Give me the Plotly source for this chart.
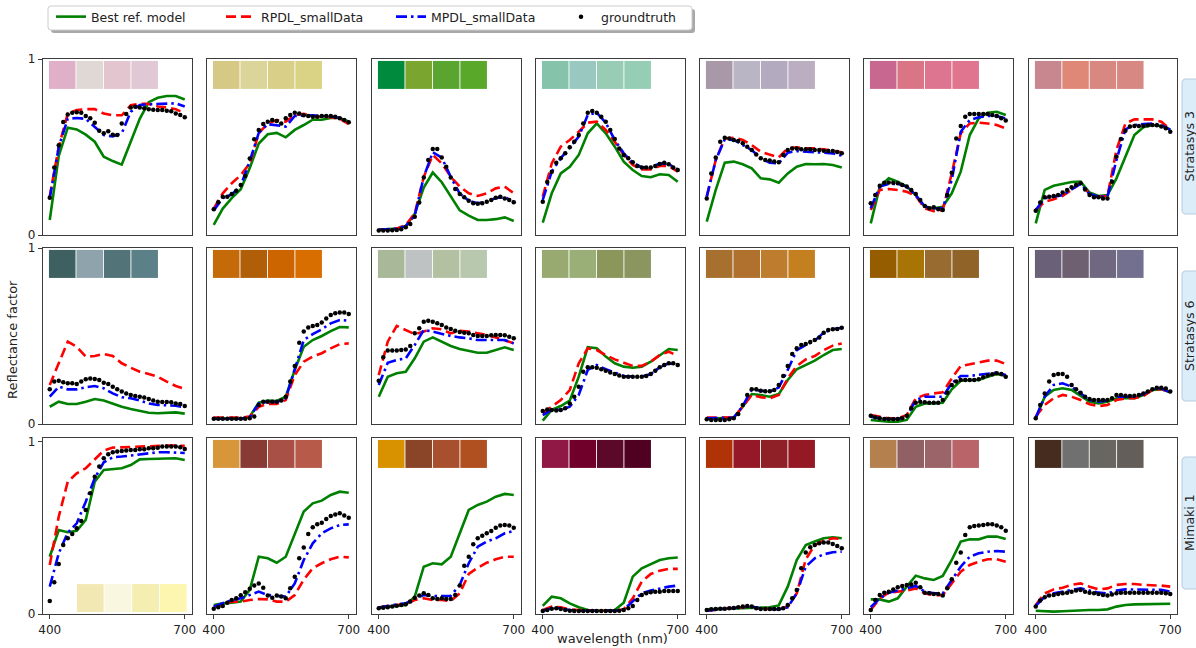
import plotly.graph_objects as go

# ---------------- data ----------------
wl_line = list(range(400, 701, 20))   # model curves
wl_dot = list(range(400, 701, 10))    # ground-truth samples

printers = ["Stratasys 3", "Stratasys 6", "Mimaki 1"]
legend_names = ["Best ref. model", "RPDL_smallData", "MPDL_smallData", "groundtruth"]
x_ticks = [400, 700]

# --- Stratasys 3 ---
best_s3 = [
    [0.085, 0.45, 0.61, 0.60, 0.57, 0.53, 0.445, 0.42, 0.40, 0.53, 0.66, 0.755, 0.78, 0.79, 0.79, 0.77],
    [0.057, 0.15, 0.21, 0.26, 0.38, 0.52, 0.572, 0.58, 0.555, 0.597, 0.625, 0.655, 0.655, 0.665, 0.665, 0.645],
    [0.03, 0.033, 0.037, 0.05, 0.12, 0.27, 0.355, 0.30, 0.22, 0.14, 0.11, 0.085, 0.085, 0.09, 0.10, 0.08],
    [0.07, 0.237, 0.35, 0.388, 0.455, 0.578, 0.634, 0.578, 0.502, 0.417, 0.369, 0.335, 0.328, 0.345, 0.341, 0.303],
    [0.076, 0.256, 0.411, 0.417, 0.402, 0.379, 0.322, 0.316, 0.297, 0.35, 0.388, 0.403, 0.402, 0.403, 0.398, 0.383],
    [0.066, 0.275, 0.322, 0.303, 0.275, 0.227, 0.161, 0.152, 0.161, 0.237, 0.36, 0.568, 0.663, 0.695, 0.70, 0.682],
    [0.066, 0.256, 0.28, 0.29, 0.301, 0.303, 0.241, 0.222, 0.227, 0.322, 0.445, 0.568, 0.612, 0.625, 0.619, 0.60],
]
rpdl_s3 = [
    [0.22, 0.50, 0.69, 0.71, 0.715, 0.715, 0.69, 0.68, 0.68, 0.737, 0.745, 0.745, 0.73, 0.725, 0.715, 0.69],
    [0.15, 0.237, 0.294, 0.34, 0.407, 0.578, 0.634, 0.653, 0.644, 0.682, 0.688, 0.676, 0.672, 0.669, 0.661, 0.63],
    [0.028, 0.032, 0.036, 0.057, 0.123, 0.33, 0.455, 0.407, 0.331, 0.275, 0.237, 0.222, 0.237, 0.265, 0.275, 0.237],
    [0.218, 0.407, 0.502, 0.54, 0.587, 0.638, 0.644, 0.597, 0.53, 0.455, 0.398, 0.373, 0.373, 0.392, 0.392, 0.36],
    [0.218, 0.426, 0.549, 0.553, 0.54, 0.511, 0.473, 0.455, 0.441, 0.492, 0.498, 0.492, 0.492, 0.487, 0.479, 0.47],
    [0.142, 0.256, 0.261, 0.256, 0.246, 0.222, 0.152, 0.136, 0.142, 0.35, 0.578, 0.634, 0.638, 0.634, 0.625, 0.606],
    [0.142, 0.189, 0.203, 0.222, 0.256, 0.297, 0.233, 0.218, 0.222, 0.483, 0.634, 0.657, 0.657, 0.657, 0.644, 0.60],
]
mpdl_s3 = [
    [0.21, 0.50, 0.66, 0.665, 0.66, 0.615, 0.568, 0.56, 0.578, 0.70, 0.739, 0.743, 0.745, 0.748, 0.748, 0.73],
    [0.14, 0.21, 0.23, 0.28, 0.42, 0.58, 0.63, 0.625, 0.616, 0.676, 0.68, 0.68, 0.675, 0.675, 0.665, 0.64],
    [0.03, 0.033, 0.036, 0.05, 0.11, 0.33, 0.47, 0.44, 0.33, 0.235, 0.195, 0.18, 0.19, 0.21, 0.215, 0.19],
    [0.2, 0.36, 0.436, 0.498, 0.559, 0.682, 0.695, 0.638, 0.54, 0.464, 0.411, 0.384, 0.384, 0.407, 0.403, 0.373],
    [0.218, 0.426, 0.544, 0.54, 0.511, 0.483, 0.436, 0.411, 0.407, 0.468, 0.477, 0.473, 0.468, 0.464, 0.464, 0.451],
    [0.152, 0.275, 0.29, 0.29, 0.275, 0.227, 0.161, 0.152, 0.152, 0.313, 0.587, 0.653, 0.669, 0.676, 0.676, 0.663],
    [0.142, 0.208, 0.218, 0.227, 0.259, 0.29, 0.233, 0.218, 0.218, 0.426, 0.60, 0.625, 0.631, 0.634, 0.625, 0.597],
]
gt_s3 = [
    [0.212, 0.383, 0.51, 0.642, 0.684, 0.695, 0.697, 0.695, 0.676, 0.663, 0.638, 0.593, 0.578, 0.589, 0.57, 0.568,
     0.634, 0.688, 0.725, 0.729, 0.725, 0.72, 0.714, 0.712, 0.71, 0.71, 0.706, 0.703, 0.691, 0.682, 0.669],
    [0.146, 0.186, 0.218, 0.218, 0.233, 0.252, 0.284, 0.335, 0.434, 0.544, 0.597, 0.631, 0.644, 0.653, 0.648, 0.634,
     0.663, 0.682, 0.695, 0.691, 0.68, 0.676, 0.672, 0.672, 0.676, 0.676, 0.676, 0.672, 0.663, 0.653, 0.64],
    [0.025, 0.025, 0.025, 0.027, 0.028, 0.032, 0.044, 0.063, 0.104, 0.184, 0.326, 0.426, 0.489, 0.489, 0.441, 0.388,
     0.326, 0.261, 0.233, 0.214, 0.195, 0.18, 0.178, 0.18, 0.189, 0.199, 0.212, 0.218, 0.208, 0.199, 0.186],
    [0.189, 0.301, 0.36, 0.411, 0.436, 0.464, 0.498, 0.53, 0.568, 0.634, 0.695, 0.705, 0.695, 0.672, 0.644, 0.597,
     0.545, 0.492, 0.455, 0.436, 0.413, 0.392, 0.384, 0.383, 0.384, 0.392, 0.403, 0.411, 0.402, 0.384, 0.369],
    [0.208, 0.35, 0.441, 0.53, 0.553, 0.549, 0.54, 0.534, 0.521, 0.502, 0.483, 0.458, 0.436, 0.426, 0.424, 0.417,
     0.413, 0.455, 0.483, 0.492, 0.492, 0.487, 0.487, 0.487, 0.483, 0.483, 0.479, 0.477, 0.477, 0.472, 0.464],
    [0.18, 0.227, 0.28, 0.297, 0.299, 0.297, 0.294, 0.284, 0.275, 0.256, 0.233, 0.199, 0.165, 0.152, 0.157, 0.146,
     0.142, 0.227, 0.354, 0.549, 0.619, 0.672, 0.688, 0.688, 0.688, 0.688, 0.688, 0.682, 0.676, 0.663, 0.65],
    [0.138, 0.184, 0.214, 0.218, 0.222, 0.227, 0.241, 0.256, 0.271, 0.284, 0.294, 0.259, 0.227, 0.214, 0.214, 0.208,
     0.208, 0.303, 0.445, 0.545, 0.593, 0.616, 0.619, 0.619, 0.619, 0.623, 0.625, 0.623, 0.616, 0.606, 0.587],
]
sw_s3 = [
    ["#e0b0c8", "#e0d8d5", "#e2c5cf", "#e0c8d5"],
    ["#d6c885", "#dcd59a", "#dacf88", "#dad386"],
    ["#008a3e", "#7aa52f", "#5aa530", "#5aa82a"],
    ["#85c4aa", "#98c8c0", "#98ccb5", "#95ceb5"],
    ["#a898a8", "#bab5c5", "#b4aac0", "#bbaec0"],
    ["#c86890", "#da7585", "#de7590", "#e07590"],
    ["#c8868e", "#e08878", "#d88880", "#d88882"],
]

# --- Stratasys 6 ---
best_s6 = [
    [0.098, 0.127, 0.114, 0.114, 0.127, 0.142, 0.133, 0.114, 0.098, 0.085, 0.074, 0.064, 0.061, 0.064, 0.066, 0.059],
    [0.03, 0.03, 0.03, 0.03, 0.042, 0.121, 0.133, 0.131, 0.155, 0.307, 0.439, 0.477, 0.50, 0.528, 0.551, 0.549],
    [0.155, 0.269, 0.288, 0.297, 0.373, 0.468, 0.492, 0.468, 0.443, 0.426, 0.417, 0.405, 0.405, 0.42, 0.436, 0.42],
    [0.019, 0.08, 0.102, 0.133, 0.269, 0.436, 0.43, 0.383, 0.345, 0.326, 0.32, 0.326, 0.354, 0.392, 0.426, 0.42],
    [0.03, 0.032, 0.032, 0.036, 0.098, 0.17, 0.165, 0.155, 0.17, 0.25, 0.311, 0.335, 0.36, 0.392, 0.42, 0.426],
    [0.023, 0.017, 0.013, 0.013, 0.023, 0.098, 0.117, 0.117, 0.121, 0.197, 0.246, 0.25, 0.25, 0.269, 0.284, 0.273],
    [0.032, 0.155, 0.193, 0.203, 0.193, 0.161, 0.127, 0.117, 0.127, 0.146, 0.146, 0.146, 0.165, 0.193, 0.197, 0.18],
]
rpdl_s6 = [
    [0.222, 0.345, 0.468, 0.439, 0.383, 0.386, 0.398, 0.386, 0.345, 0.32, 0.297, 0.284, 0.269, 0.241, 0.216, 0.20],
    [0.036, 0.036, 0.036, 0.036, 0.042, 0.098, 0.114, 0.114, 0.136, 0.278, 0.354, 0.383, 0.402, 0.43, 0.453, 0.458],
    [0.278, 0.468, 0.557, 0.534, 0.511, 0.525, 0.544, 0.538, 0.515, 0.53, 0.525, 0.515, 0.506, 0.492, 0.477, 0.458],
    [0.061, 0.098, 0.136, 0.193, 0.345, 0.43, 0.42, 0.392, 0.367, 0.348, 0.33, 0.33, 0.354, 0.392, 0.411, 0.386],
    [0.036, 0.036, 0.036, 0.038, 0.098, 0.165, 0.152, 0.146, 0.165, 0.259, 0.33, 0.367, 0.386, 0.42, 0.445, 0.458],
    [0.051, 0.042, 0.032, 0.032, 0.051, 0.146, 0.165, 0.174, 0.18, 0.259, 0.33, 0.339, 0.348, 0.36, 0.36, 0.341],
    [0.042, 0.108, 0.146, 0.165, 0.155, 0.136, 0.112, 0.102, 0.108, 0.136, 0.146, 0.146, 0.159, 0.193, 0.199, 0.18],
]
mpdl_s6 = [
    [0.155, 0.212, 0.197, 0.197, 0.208, 0.216, 0.203, 0.174, 0.152, 0.146, 0.133, 0.117, 0.108, 0.108, 0.104, 0.095],
    [0.03, 0.03, 0.03, 0.03, 0.038, 0.117, 0.127, 0.125, 0.146, 0.307, 0.477, 0.511, 0.538, 0.572, 0.591, 0.587],
    [0.222, 0.348, 0.364, 0.373, 0.449, 0.534, 0.525, 0.511, 0.50, 0.492, 0.487, 0.477, 0.477, 0.481, 0.477, 0.458],
    [0.051, 0.08, 0.08, 0.098, 0.165, 0.307, 0.335, 0.311, 0.292, 0.273, 0.269, 0.269, 0.284, 0.322, 0.345, 0.335],
    [0.032, 0.032, 0.032, 0.036, 0.102, 0.197, 0.189, 0.184, 0.208, 0.307, 0.42, 0.449, 0.473, 0.519, 0.538, 0.547],
    [0.042, 0.032, 0.028, 0.028, 0.042, 0.136, 0.155, 0.155, 0.155, 0.231, 0.273, 0.273, 0.278, 0.284, 0.292, 0.278],
    [0.036, 0.155, 0.222, 0.231, 0.212, 0.174, 0.136, 0.127, 0.133, 0.155, 0.155, 0.155, 0.17, 0.197, 0.203, 0.18],
]
gt_s6 = [
    [0.197, 0.241, 0.246, 0.237, 0.231, 0.231, 0.227, 0.241, 0.254, 0.259, 0.256, 0.25, 0.235, 0.227, 0.212, 0.197,
     0.184, 0.174, 0.165, 0.159, 0.155, 0.15, 0.142, 0.133, 0.127, 0.125, 0.125, 0.123, 0.117, 0.114, 0.102],
    [0.03, 0.03, 0.03, 0.03, 0.03, 0.03, 0.03, 0.03, 0.032, 0.042, 0.108, 0.127, 0.127, 0.127, 0.127, 0.133,
     0.155, 0.241, 0.33, 0.462, 0.525, 0.549, 0.557, 0.563, 0.576, 0.60, 0.619, 0.629, 0.633, 0.633, 0.625],
    [0.246, 0.379, 0.417, 0.417, 0.417, 0.42, 0.424, 0.443, 0.515, 0.544, 0.581, 0.587, 0.581, 0.572, 0.563, 0.549,
     0.54, 0.53, 0.523, 0.519, 0.515, 0.506, 0.50, 0.50, 0.50, 0.504, 0.506, 0.506, 0.504, 0.496, 0.487],
    [0.074, 0.083, 0.08, 0.076, 0.08, 0.089, 0.117, 0.155, 0.212, 0.297, 0.322, 0.322, 0.32, 0.311, 0.303, 0.292,
     0.284, 0.275, 0.269, 0.269, 0.269, 0.269, 0.269, 0.273, 0.284, 0.303, 0.322, 0.335, 0.345, 0.345, 0.335],
    [0.027, 0.023, 0.023, 0.023, 0.023, 0.027, 0.032, 0.057, 0.108, 0.165, 0.197, 0.197, 0.189, 0.186, 0.186, 0.193,
     0.222, 0.273, 0.33, 0.398, 0.43, 0.449, 0.455, 0.466, 0.477, 0.492, 0.519, 0.534, 0.538, 0.54, 0.547],
    [0.047, 0.038, 0.032, 0.028, 0.028, 0.027, 0.028, 0.032, 0.047, 0.089, 0.121, 0.127, 0.123, 0.121, 0.121, 0.121,
     0.136, 0.178, 0.222, 0.241, 0.25, 0.25, 0.25, 0.25, 0.254, 0.265, 0.275, 0.282, 0.288, 0.284, 0.269],
    [0.032, 0.108, 0.174, 0.241, 0.278, 0.284, 0.284, 0.269, 0.222, 0.197, 0.178, 0.155, 0.142, 0.136, 0.136, 0.136,
     0.136, 0.146, 0.165, 0.165, 0.161, 0.159, 0.161, 0.165, 0.174, 0.184, 0.197, 0.206, 0.206, 0.201, 0.184],
]
sw_s6 = [
    ["#3e6060", "#8fa3ad", "#527478", "#5b8088"],
    ["#c56a08", "#b05e08", "#cc6500", "#d86e00"],
    ["#a8b898", "#bec2c2", "#b4c0a2", "#b8c8ae"],
    ["#98aa70", "#9aae78", "#8a965a", "#8a9560"],
    ["#a8702e", "#b0702e", "#be7c2e", "#c48020"],
    ["#965c00", "#a87405", "#986c30", "#906428"],
    ["#6a6078", "#6e6070", "#706880", "#72708e"],
]

# --- Mimaki 1 ---
best_m1 = [
    [0.333, 0.488, 0.475, 0.483, 0.547, 0.769, 0.837, 0.843, 0.847, 0.866, 0.899, 0.901, 0.903, 0.903, 0.905, 0.895],
    [0.052, 0.062, 0.066, 0.072, 0.14, 0.333, 0.324, 0.298, 0.333, 0.459, 0.595, 0.643, 0.659, 0.692, 0.711, 0.705],
    [0.037, 0.043, 0.047, 0.052, 0.101, 0.275, 0.295, 0.289, 0.333, 0.469, 0.605, 0.634, 0.653, 0.682, 0.698, 0.692],
    [0.047, 0.101, 0.091, 0.062, 0.039, 0.023, 0.019, 0.019, 0.023, 0.066, 0.217, 0.266, 0.291, 0.314, 0.324, 0.328],
    [0.027, 0.029, 0.029, 0.033, 0.037, 0.037, 0.039, 0.039, 0.05, 0.159, 0.314, 0.401, 0.421, 0.44, 0.446, 0.44],
    [0.085, 0.085, 0.072, 0.091, 0.159, 0.223, 0.207, 0.198, 0.221, 0.314, 0.421, 0.434, 0.434, 0.45, 0.45, 0.436],
    [0.019, 0.016, 0.014, 0.016, 0.019, 0.023, 0.023, 0.023, 0.027, 0.043, 0.052, 0.056, 0.058, 0.06, 0.062, 0.06],
]
rpdl_m1 = [
    [0.285, 0.566, 0.769, 0.818, 0.847, 0.899, 0.95, 0.967, 0.969, 0.973, 0.977, 0.977, 0.979, 0.979, 0.979, 0.977],
    [0.043, 0.052, 0.072, 0.072, 0.081, 0.087, 0.085, 0.072, 0.072, 0.11, 0.20, 0.266, 0.295, 0.318, 0.333, 0.329],
    [0.037, 0.047, 0.052, 0.058, 0.081, 0.091, 0.081, 0.081, 0.076, 0.12, 0.233, 0.269, 0.298, 0.318, 0.333, 0.333],
    [0.023, 0.043, 0.039, 0.027, 0.023, 0.019, 0.019, 0.019, 0.019, 0.027, 0.091, 0.188, 0.233, 0.252, 0.262, 0.262],
    [0.019, 0.027, 0.031, 0.035, 0.039, 0.043, 0.031, 0.027, 0.027, 0.043, 0.12, 0.318, 0.401, 0.426, 0.44, 0.436],
    [0.023, 0.091, 0.124, 0.13, 0.136, 0.149, 0.12, 0.11, 0.11, 0.178, 0.246, 0.285, 0.304, 0.318, 0.318, 0.304],
    [0.052, 0.12, 0.143, 0.153, 0.169, 0.178, 0.159, 0.143, 0.149, 0.169, 0.174, 0.174, 0.169, 0.169, 0.165, 0.159],
]
mpdl_m1 = [
    [0.159, 0.353, 0.473, 0.527, 0.653, 0.789, 0.882, 0.911, 0.915, 0.921, 0.928, 0.934, 0.94, 0.94, 0.94, 0.936],
    [0.043, 0.062, 0.081, 0.091, 0.11, 0.13, 0.11, 0.107, 0.101, 0.178, 0.314, 0.411, 0.469, 0.498, 0.517, 0.521],
    [0.037, 0.047, 0.056, 0.062, 0.091, 0.11, 0.105, 0.105, 0.105, 0.169, 0.295, 0.391, 0.421, 0.44, 0.469, 0.483],
    [0.019, 0.033, 0.033, 0.023, 0.019, 0.019, 0.019, 0.019, 0.019, 0.027, 0.072, 0.12, 0.136, 0.149, 0.159, 0.165],
    [0.019, 0.027, 0.031, 0.035, 0.039, 0.043, 0.031, 0.027, 0.027, 0.039, 0.12, 0.275, 0.324, 0.347, 0.359, 0.362],
    [0.039, 0.091, 0.124, 0.136, 0.149, 0.163, 0.13, 0.12, 0.12, 0.198, 0.275, 0.333, 0.353, 0.362, 0.366, 0.362],
    [0.047, 0.101, 0.12, 0.13, 0.14, 0.149, 0.136, 0.124, 0.12, 0.136, 0.143, 0.143, 0.14, 0.143, 0.14, 0.13],
]
gt_m1 = [
    [0.076, 0.184, 0.291, 0.401, 0.44, 0.465, 0.498, 0.541, 0.605, 0.702, 0.798, 0.857, 0.905, 0.928, 0.94, 0.944,
     0.948, 0.95, 0.953, 0.953, 0.957, 0.957, 0.963, 0.963, 0.967, 0.973, 0.973, 0.973, 0.973, 0.969, 0.959],
    [0.031, 0.039, 0.047, 0.066, 0.081, 0.091, 0.109, 0.126, 0.147, 0.165, 0.178, 0.153, 0.107, 0.095, 0.107, 0.101,
     0.091, 0.149, 0.217, 0.324, 0.386, 0.465, 0.504, 0.521, 0.531, 0.552, 0.57, 0.579, 0.585, 0.572, 0.56],
    [0.033, 0.037, 0.039, 0.043, 0.048, 0.052, 0.056, 0.072, 0.095, 0.107, 0.12, 0.11, 0.091, 0.087, 0.091, 0.087,
     0.087, 0.11, 0.165, 0.281, 0.333, 0.405, 0.44, 0.455, 0.469, 0.483, 0.502, 0.514, 0.517, 0.514, 0.502],
    [0.017, 0.023, 0.031, 0.033, 0.029, 0.023, 0.019, 0.017, 0.017, 0.017, 0.017, 0.017, 0.017, 0.017, 0.017, 0.017,
     0.017, 0.019, 0.023, 0.033, 0.047, 0.081, 0.11, 0.12, 0.126, 0.13, 0.13, 0.134, 0.134, 0.134, 0.134],
    [0.023, 0.027, 0.029, 0.031, 0.031, 0.033, 0.035, 0.039, 0.043, 0.047, 0.043, 0.033, 0.029, 0.029, 0.029, 0.029,
     0.029, 0.033, 0.052, 0.091, 0.14, 0.266, 0.357, 0.388, 0.401, 0.411, 0.415, 0.415, 0.407, 0.395, 0.382],
    [0.023, 0.081, 0.11, 0.124, 0.13, 0.143, 0.155, 0.163, 0.169, 0.172, 0.182, 0.155, 0.124, 0.12, 0.116, 0.116,
     0.107, 0.149, 0.202, 0.298, 0.357, 0.459, 0.504, 0.512, 0.514, 0.517, 0.521, 0.521, 0.514, 0.504, 0.484],
    [0.043, 0.078, 0.097, 0.107, 0.11, 0.116, 0.12, 0.124, 0.13, 0.136, 0.14, 0.13, 0.124, 0.12, 0.116, 0.11,
     0.107, 0.114, 0.12, 0.124, 0.124, 0.124, 0.124, 0.124, 0.124, 0.124, 0.124, 0.124, 0.124, 0.12, 0.116],
]
sw_m1 = [
    ["#f2e8b4", "#faf7e0", "#f4eeb0", "#fcf6b0"],
    ["#d8963a", "#883a35", "#a85045", "#b85a4a"],
    ["#d89200", "#8a4428", "#a8502e", "#b05020"],
    ["#901845", "#70002a", "#5c0828", "#500020"],
    ["#b03308", "#951828", "#902028", "#951825"],
    ["#b4804e", "#906065", "#9a6468", "#b86468"],
    ["#452c1e", "#707070", "#686660", "#645e5a"],
]

rows = [
    (best_s3, rpdl_s3, mpdl_s3, gt_s3, sw_s3),
    (best_s6, rpdl_s6, mpdl_s6, gt_s6, sw_s6),
    (best_m1, rpdl_m1, mpdl_m1, gt_m1, sw_m1),
]
y_top = [1.0, 1.0, 1.023]

# ---------------- layout geometry ----------------
W, H = 1196, 648
ML, MR, MT, MB = 43, 19, 59, 34
PW = W - ML - MR
PH = H - MT - MB
col_left = [43, 207, 372, 536, 700, 864, 1029]
panel_w = 148.5
row_top = [59, 248, 438]
panel_h = 176


def px_x(px):
    return (px - ML) / PW


def px_y(py):
    return (H - MB - py) / PH


def clamp(v):
    return min(1.0, max(0.0, v))


def rr_path(x0, y0, x1, y1, r):
    pts = [("M", [(x0 + r, y0)]), ("L", [(x1 - r, y0)]), ("Q", [(x1, y0), (x1, y0 + r)]),
           ("L", [(x1, y1 - r)]), ("Q", [(x1, y1), (x1 - r, y1)]), ("L", [(x0 + r, y1)]),
           ("Q", [(x0, y1), (x0, y1 - r)]), ("L", [(x0, y0 + r)]), ("Q", [(x0, y0), (x0 + r, y0)])]
    s = ""
    for cmd, ps in pts:
        s += cmd + " " + " ".join(f"{px_x(a):.5f},{px_y(b):.5f}" for a, b in ps) + " "
    return s + "Z"


FONT = "DejaVu Sans, Verdana, sans-serif"
fig = go.Figure()
layout = {}
shapes = []
annotations = []

for r in range(3):
    best, rpdl, mpdl, gt, sw = rows[r]
    for c in range(7):
        n = r * 7 + c + 1
        xs = "x" if n == 1 else f"x{n}"
        ys = "y" if n == 1 else f"y{n}"
        first = (n == 1)
        fig.add_trace(go.Scatter(x=wl_line, y=best[c], xaxis=xs, yaxis=ys, mode="lines",
                                 line=dict(color="green", width=2.6), name=legend_names[0],
                                 legendgroup="g0", showlegend=first))
        fig.add_trace(go.Scatter(x=wl_line, y=rpdl[c], xaxis=xs, yaxis=ys, mode="lines",
                                 line=dict(color="red", width=2.6, dash="10px,5px"), name=legend_names[1],
                                 legendgroup="g1", showlegend=first))
        fig.add_trace(go.Scatter(x=wl_line, y=mpdl[c], xaxis=xs, yaxis=ys, mode="lines",
                                 line=dict(color="blue", width=2.6, dash="11px,4px,2.5px,4px"),
                                 name=legend_names[2], legendgroup="g2", showlegend=first))
        fig.add_trace(go.Scatter(x=wl_dot, y=gt[c], xaxis=xs, yaxis=ys, mode="markers",
                                 marker=dict(color="black", size=4.5), name=legend_names[3],
                                 legendgroup="g3", showlegend=first))

        L = col_left[c]
        T = row_top[r]
        xkey = "xaxis" if n == 1 else f"xaxis{n}"
        ykey = "yaxis" if n == 1 else f"yaxis{n}"
        bottom_row = (r == 2)
        first_col = (c == 0)
        layout[xkey] = dict(
            domain=[clamp(px_x(L)), clamp(px_x(L + panel_w))], range=[385, 715], anchor=ys,
            showline=True, mirror=True, linecolor="#3c3c3c", linewidth=1.3,
            showgrid=False, zeroline=False,
            tickvals=x_ticks if bottom_row else [], showticklabels=bottom_row,
            ticks="outside" if bottom_row else "", ticklen=4, tickcolor="#3c3c3c",
            tickfont=dict(family=FONT, size=12, color="#222"),
        )
        layout[ykey] = dict(
            domain=[clamp(px_y(T + panel_h)), clamp(px_y(T))], range=[0, y_top[r]], anchor=xs,
            showline=True, mirror=True, linecolor="#3c3c3c", linewidth=1.3,
            showgrid=False, zeroline=False,
            tickvals=[0, 1] if first_col else [], showticklabels=first_col,
            ticks="outside" if first_col else "", ticklen=4, tickcolor="#3c3c3c",
            tickfont=dict(family=FONT, size=12, color="#222"),
        )

        # colour swatches (drawn in axis-domain coordinates)
        if r == 2 and c == 0:
            sx0, sx1, sy0, sy1 = 0.228, 0.973, 0.011, 0.17
        else:
            sx0, sx1, sy0, sy1 = 0.04, 0.78, 0.83, 0.989
        sw_w = (sx1 - sx0) / 4
        for i, col in enumerate(sw[c]):
            shapes.append(dict(type="rect", xref=f"{xs} domain", yref=f"{ys} domain",
                               x0=sx0 + i * sw_w, x1=sx0 + (i + 1) * sw_w - 0.006,
                               y0=sy0, y1=sy1, fillcolor=col, line=dict(width=0), layer="above"))

# legend frame with shadow (matplotlib style)
shapes.append(dict(type="path", xref="paper", yref="paper", path=rr_path(51, 9, 695, 33, 3),
                   fillcolor="#a8a8a8", line=dict(width=0), layer="above"))
shapes.append(dict(type="path", xref="paper", yref="paper", path=rr_path(48, 6, 692, 30, 3),
                   fillcolor="white", line=dict(color="#cccccc", width=1), layer="above"))

# row label boxes
row_boxes = [(79, 214), (271, 401), (457, 589)]
for (y0, y1), label in zip(row_boxes, printers):
    shapes.append(dict(type="path", xref="paper", yref="paper", path=rr_path(1182, y0, 1215, y1, 4),
                       fillcolor="#dcedfa", line=dict(color="#b6cbdc", width=1), layer="above"))
    annotations.append(dict(text=label, xref="paper", yref="paper", x=px_x(1189), y=px_y((y0 + y1) / 2),
                            xanchor="center", yanchor="middle", textangle=-90, showarrow=False,
                            font=dict(family=FONT, size=12.5, color="#222")))

annotations.append(dict(text="Reflectance factor", xref="paper", yref="paper", x=px_x(13), y=px_y(340),
                        xanchor="center", yanchor="middle", textangle=-90, showarrow=False,
                        font=dict(family=FONT, size=13, color="#222")))
annotations.append(dict(text="wavelength (nm)", xref="paper", yref="paper", x=px_x(612), y=px_y(638),
                        xanchor="center", yanchor="middle", showarrow=False,
                        font=dict(family=FONT, size=13, color="#222")))

fig.update_layout(
    width=W, height=H,
    margin=dict(l=ML, r=MR, t=MT, b=MB, autoexpand=False),
    paper_bgcolor="white", plot_bgcolor="white",
    font=dict(family=FONT, size=12, color="#222"),
    showlegend=True,
    legend=dict(orientation="h", xref="container", yref="container",
                x=51 / W, xanchor="left", y=1 - 2 / H, yanchor="top",
                bgcolor="rgba(0,0,0,0)", borderwidth=0, font=dict(family=FONT, size=12.5, color="#222"),
                entrywidth=125, entrywidthmode="pixels", itemwidth=30, tracegroupgap=0),
    shapes=shapes,
    annotations=annotations,
    **layout,
)

fig.write_html("out.html", config={"displayModeBar": False},
               post_script="document.body.style.margin='0px';document.body.style.padding='0px';")
